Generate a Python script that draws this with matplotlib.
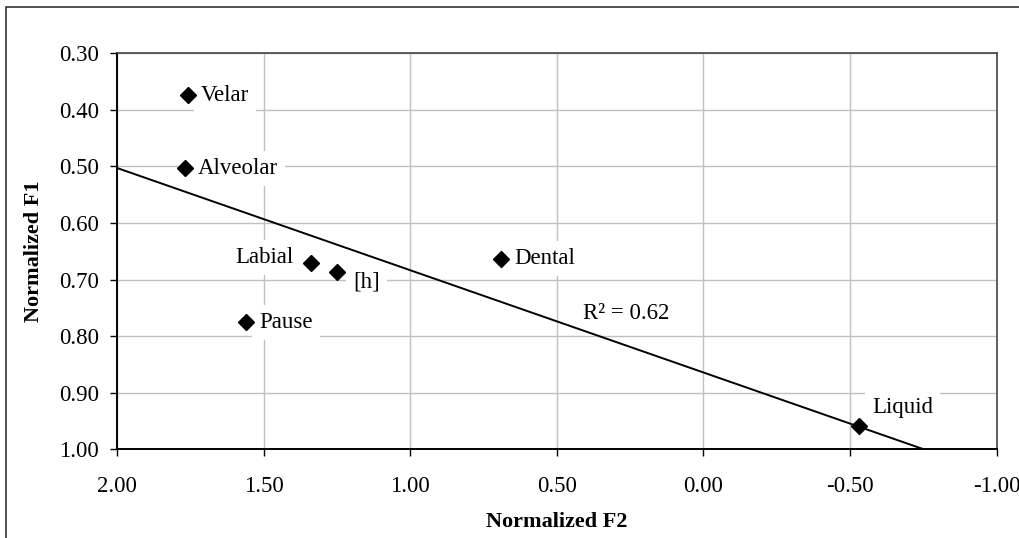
import matplotlib
matplotlib.use("Agg")
import matplotlib.pyplot as plt
from matplotlib.patches import Rectangle
import numpy as np

plt.rcParams['font.family'] = ['Liberation Serif', 'DejaVu Serif']

# data
labels = ["Velar", "Alveolar", "Labial", "[h]", "Pause", "Dental", "Liquid"]
f2 = [1.76, 1.77, 1.34, 1.25, 1.56, 0.69, -0.53]
f1 = [0.374, 0.503, 0.671, 0.687, 0.775, 0.664, 0.958]
# where each label sits relative to its point (pixels)
label_offsets = [(13, 0), (13, 0), (-17, 6), (16, -10), (13, 0), (13, 1), (13, 18)]
label_align = ["left", "left", "right", "left", "left", "left", "left"]

x_ticks = [2.0, 1.5, 1.0, 0.5, 0.0, -0.5, -1.0]
y_ticks = [0.3, 0.4, 0.5, 0.6, 0.7, 0.8, 0.9, 1.0]

x = np.array(f2)
y = np.array(f1)
slope, intercept = np.polyfit(x, y, 1)
pred = slope * x + intercept
r2 = 1 - np.sum((y - pred) ** 2) / np.sum((y - y.mean()) ** 2)

fig = plt.figure(figsize=(10.19, 5.38), dpi=100)
ax = fig.add_axes([0.1151, 0.1645, 0.978 - 0.1151, 0.901 - 0.1645])

# outer chart frame (only left/top edges visible in the original)
fig.patches.append(Rectangle((6 / 1019, -0.2), 1.2, 1.2 - 7 / 538,
                             transform=fig.transFigure, fill=False,
                             edgecolor="#333333", linewidth=1.2))

ax.grid(True, color="#c0c0c0", linewidth=1.0, zorder=0)
ax.set_axisbelow(True)

xl = np.array([2.0, -1.0])
ax.plot(xl, slope * xl + intercept, color="black", linewidth=1.4, zorder=2)

for lab, xi, yi, off, ha in zip(labels, f2, f1, label_offsets, label_align):
    ax.annotate(lab, (xi, yi), xytext=off, textcoords="offset pixels",
                ha=ha, va="center", fontsize=16.5, zorder=3,
                bbox=dict(boxstyle="square,pad=0.3", fc="white", ec="none"))

ax.plot(f2, f1, linestyle="none", marker="D", markersize=8.5,
        color="black", zorder=4)

ax.text(0.41, 0.759, f"R² = {r2:.2f}", fontsize=16.5, ha="left", va="center",
        zorder=3)

ax.set_xlim(2.0, -1.0)
ax.set_ylim(1.0, 0.3)
ax.set_xticks(x_ticks)
ax.set_yticks(y_ticks)
ax.set_xticklabels([f"{v:.2f}" for v in x_ticks], fontsize=16.5)
ax.set_yticklabels([f"{v:.2f}" for v in y_ticks], fontsize=16.5)
ax.tick_params(axis="both", direction="out", length=5, width=1.0, pad=8)
ax.tick_params(axis="x", pad=14)

for side in ["top", "right"]:
    ax.spines[side].set_color("#444444")
    ax.spines[side].set_linewidth(1.2)
for side in ["left", "bottom"]:
    ax.spines[side].set_color("black")
    ax.spines[side].set_linewidth(1.4)

ax.set_xlabel("Normalized F2", fontsize=16, fontweight="bold", labelpad=11)
ax.set_ylabel("Normalized F1", fontsize=16, fontweight="bold", labelpad=11)

fig.savefig("out.png", dpi=100)
